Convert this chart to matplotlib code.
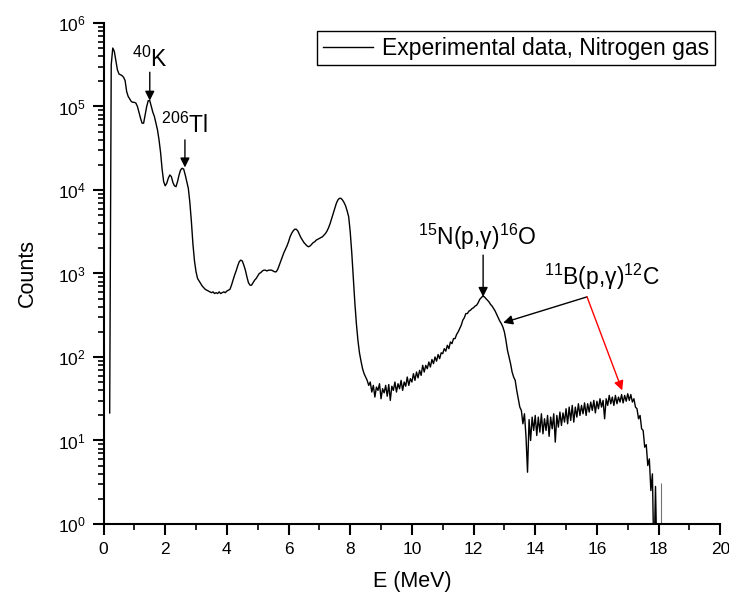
import numpy as np
import matplotlib
matplotlib.use("Agg")
import matplotlib.pyplot as plt
from matplotlib.ticker import LogLocator, MultipleLocator, NullFormatter, FixedLocator

plt.rcParams['font.family'] = ['Liberation Sans', 'DejaVu Sans']
plt.rcParams['mathtext.fontset'] = 'custom'
plt.rcParams['mathtext.rm'] = 'Liberation Sans'
plt.rcParams['mathtext.it'] = 'Liberation Sans:italic'

# spectrum: log10(counts), one value per 0.05 MeV starting at 0.20 MeV
e_start = 0.20
e_step = 0.05
log_counts = [
    1.33, 5.50, 5.70, 5.66, 5.55, 5.44, 5.39, 5.38, 5.37, 5.35,  # 0.20
    5.31, 5.18, 5.12, 5.09, 5.06, 5.05, 5.05, 5.04, 5.00, 4.93,  # 0.70
    4.86, 4.80, 4.80, 4.90, 5.00, 5.07, 5.07, 5.00, 4.93, 4.88,  # 1.20
    4.80, 4.72, 4.60, 4.45, 4.25, 4.10, 4.05, 4.08, 4.14, 4.18,  # 1.70
    4.16, 4.09, 4.05, 4.04, 4.10, 4.18, 4.24, 4.26, 4.25, 4.18,  # 2.20
    4.10, 4.02, 3.85, 3.62, 3.35, 3.15, 3.02, 2.94, 2.91, 2.88,  # 2.70
    2.85, 2.83, 2.81, 2.80, 2.79, 2.78, 2.77, 2.78, 2.76, 2.77,  # 3.20
    2.76, 2.78, 2.76, 2.77, 2.78, 2.77, 2.79, 2.80, 2.81, 2.86,  # 3.70
    2.92, 2.98, 3.03, 3.09, 3.14, 3.16, 3.15, 3.10, 3.04, 2.96,  # 4.20
    2.89, 2.86, 2.86, 2.89, 2.92, 2.94, 2.97, 3.00, 3.01, 3.03,  # 4.70
    3.04, 3.04, 3.03, 3.04, 3.04, 3.04, 3.03, 3.02, 3.02, 3.05,  # 5.20
    3.10, 3.15, 3.20, 3.25, 3.29, 3.33, 3.38, 3.44, 3.48, 3.51,  # 5.70
    3.53, 3.53, 3.51, 3.47, 3.43, 3.40, 3.37, 3.35, 3.33, 3.32,  # 6.20
    3.33, 3.35, 3.37, 3.38, 3.40, 3.41, 3.42, 3.43, 3.44, 3.46,  # 6.70
    3.48, 3.51, 3.55, 3.60, 3.66, 3.72, 3.78, 3.84, 3.88, 3.90,  # 7.20
    3.90, 3.88, 3.85, 3.81, 3.75, 3.68, 3.50, 3.25, 2.95, 2.65,  # 7.70
    2.40, 2.20, 2.05, 1.95, 1.86, 1.80, 1.76, 1.72, 1.66, 1.70,  # 8.20
    1.58, 1.66, 1.52, 1.64, 1.60, 1.68, 1.50, 1.62, 1.57, 1.66,  # 8.70
    1.53, 1.67, 1.48, 1.65, 1.60, 1.70, 1.58, 1.68, 1.62, 1.72,  # 9.20
    1.60, 1.70, 1.65, 1.76, 1.66, 1.74, 1.70, 1.80, 1.72, 1.82,  # 9.70
    1.75, 1.84, 1.78, 1.90, 1.82, 1.90, 1.86, 1.94, 1.88, 1.97,  # 10.20
    1.92, 2.00, 1.95, 2.03, 1.98, 2.05, 2.04, 2.10, 2.07, 2.14,  # 10.70
    2.10, 2.18, 2.16, 2.22, 2.22, 2.27, 2.30, 2.34, 2.38, 2.44,  # 11.20
    2.47, 2.52, 2.52, 2.55, 2.56, 2.58, 2.59, 2.61, 2.62, 2.65,  # 11.70
    2.69, 2.71, 2.73, 2.72, 2.70, 2.68, 2.66, 2.63, 2.61, 2.58,  # 12.20
    2.55, 2.51, 2.47, 2.43, 2.40, 2.36, 2.30, 2.20, 2.08, 2.00,  # 12.70
    1.92, 1.82, 1.76, 1.72, 1.60, 1.50, 1.40, 1.36, 1.20, 1.32,  # 13.20
    1.05, 0.62, 1.25, 1.00, 1.28, 1.12, 1.30, 1.06, 1.28, 1.10,  # 13.70
    1.32, 1.08, 1.26, 1.12, 1.30, 1.05, 1.28, 1.14, 1.32, 0.98,  # 14.20
    1.30, 1.16, 1.34, 1.18, 1.33, 1.22, 1.38, 1.20, 1.40, 1.24,  # 14.70
    1.42, 1.22, 1.40, 1.28, 1.44, 1.30, 1.42, 1.32, 1.45, 1.30,  # 15.20
    1.44, 1.34, 1.46, 1.36, 1.48, 1.33, 1.47, 1.38, 1.50, 1.40,  # 15.70
    1.48, 1.26, 1.50, 1.42, 1.54, 1.44, 1.52, 1.42, 1.54, 1.44,  # 16.20
    1.52, 1.46, 1.55, 1.45, 1.54, 1.47, 1.56, 1.48, 1.55, 1.46,  # 16.70
    1.50, 1.40, 1.38, 1.26, 1.30, 1.14, 1.12, 0.92, 0.95, 0.70,  # 17.20
    0.78, 0.40, 0.60, -0.50, 0.45, -0.50,                        # 17.70
]

# stray channel near 18 MeV (grey)
stray_E = [18.08]
stray_log = [0.49]

y_decades = [1, 10, 100, 1e3, 1e4, 1e5, 1e6]

counts = 10 ** np.array(log_counts)
energy = e_start + e_step * np.arange(len(log_counts))

fig = plt.figure(figsize=(7.29, 5.97), dpi=100)
ax = fig.add_axes([0.142, 0.1223, 0.846, 0.8392])

ax.plot(energy, counts, color='black', lw=1.0, label='Experimental data, Nitrogen gas')
ax.vlines(stray_E, 0.5, 10 ** np.array(stray_log), color='0.45', lw=0.8)

ax.set_yscale('log')
ax.set_xlim(0, 20)
ax.set_ylim(1, 1e6)

ax.spines['top'].set_visible(False)
ax.spines['right'].set_visible(False)
for s in ['left', 'bottom']:
    ax.spines[s].set_linewidth(1.5)

ax.xaxis.set_major_locator(MultipleLocator(2))
ax.xaxis.set_minor_locator(MultipleLocator(1))
ax.yaxis.set_major_locator(FixedLocator(y_decades))
ax.yaxis.set_minor_locator(LogLocator(base=10, subs=np.arange(2, 10), numticks=20))
ax.yaxis.set_minor_formatter(NullFormatter())
ax.tick_params(which='major', direction='out', length=8, width=1.5, labelsize=12.5, pad=5)
ax.tick_params(which='minor', direction='out', length=4.5, width=1.2)

ax.set_xlabel('E (MeV)', fontsize=15.5, labelpad=10)
ax.set_ylabel('Counts', fontsize=15.5, labelpad=14)

arrow_k = dict(arrowstyle='-|>', color='black', lw=1.0, mutation_scale=14, shrinkA=0, shrinkB=0)

ax.annotate('', xy=(1.50, 10 ** 5.07), xytext=(1.50, 10 ** 5.41), arrowprops=arrow_k)
ax.text(1.50, 10 ** 5.42, '$^{40}$K', fontsize=16.5, ha='center', va='bottom')

ax.annotate('', xy=(2.64, 10 ** 4.27), xytext=(2.64, 10 ** 4.60), arrowprops=arrow_k)
ax.text(2.62, 10 ** 4.62, '$^{206}$Tl', fontsize=16.5, ha='center', va='bottom')

ax.annotate('', xy=(12.31, 10 ** 2.72), xytext=(12.31, 10 ** 3.22), arrowprops=arrow_k)
ax.text(12.12, 10 ** 3.26, '$^{15}$N(p,γ)$^{16}$O', fontsize=16.5, ha='center', va='bottom')

corner = (15.68, 10 ** 2.72)
ax.annotate('', xy=(12.96, 10 ** 2.41), xytext=corner, arrowprops=arrow_k)
ax.annotate('', xy=(16.82, 10 ** 1.60), xytext=corner,
            arrowprops=dict(arrowstyle='-|>', color='red', lw=1.0, mutation_scale=14, shrinkA=0, shrinkB=0))
ax.text(16.15, 10 ** 2.78, '$^{11}$B(p,γ)$^{12}$C', fontsize=16.5, ha='center', va='bottom')

leg = ax.legend(loc='upper right', bbox_to_anchor=(0.992, 0.984), borderaxespad=0,
                fancybox=False, edgecolor='black', framealpha=1, fontsize=16.5,
                handlelength=2.2, handletextpad=0.4, borderpad=0.25)
leg.get_frame().set_linewidth(1.0)

fig.savefig('out.png', dpi=100)
